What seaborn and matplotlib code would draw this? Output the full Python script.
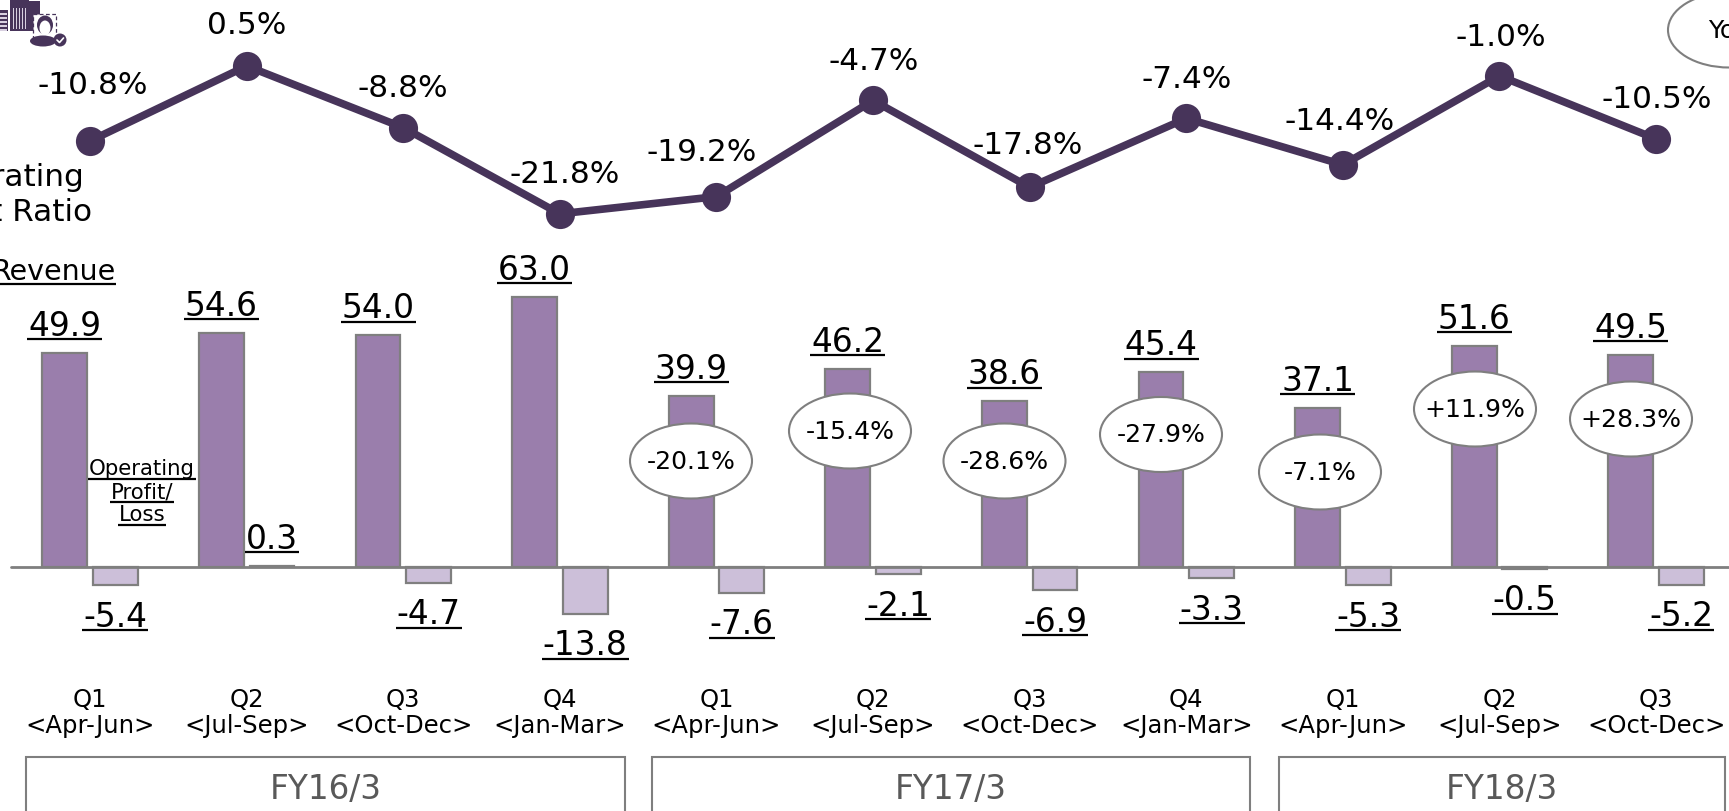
import matplotlib
matplotlib.use("Agg")
import matplotlib.pyplot as plt
from matplotlib.patches import Ellipse, Rectangle, Circle
import pandas as pd
import seaborn as sns

quarters = ["16Q1", "16Q2", "16Q3", "16Q4", "17Q1", "17Q2", "17Q3", "17Q4", "18Q1", "18Q2", "18Q3"]
tick_labels = ["Q1\n<Apr-Jun>", "Q2\n<Jul-Sep>", "Q3\n<Oct-Dec>", "Q4\n<Jan-Mar>",
               "Q1\n<Apr-Jun>", "Q2\n<Jul-Sep>", "Q3\n<Oct-Dec>", "Q4\n<Jan-Mar>",
               "Q1\n<Apr-Jun>", "Q2\n<Jul-Sep>", "Q3\n<Oct-Dec>"]
revenue = [49.9, 54.6, 54.0, 63.0, 39.9, 46.2, 38.6, 45.4, 37.1, 51.6, 49.5]
op_profit = [-5.4, 0.3, -4.7, -13.8, -7.6, -2.1, -6.9, -3.3, -5.3, -0.5, -5.2]
op_ratio = [-10.8, 0.5, -8.8, -21.8, -19.2, -4.7, -17.8, -7.4, -14.4, -1.0, -10.5]
yoy_labels = ["-20.1%", "-15.4%", "-28.6%", "-27.9%", "-7.1%", "+11.9%", "+28.3%"]
fiscal_years = ["FY16/3", "FY17/3", "FY18/3"]

# layout (not data), in output pixels
ratio_offsets = [(3, 47), (0, 32), (0, 31), (5, 31), (-15, 36), (1, 30), (-2, 33), (0, 30), (-3, 35), (1, 30), (1, 31)]
yoy_centres = [(691, 461), (850, 431), (1004.5, 461), (1161, 434.5), (1320, 472), (1475, 409), (1631, 419)]
fy_boxes = [(26, 625), (652, 1250), (1279, 1725)]

W, H = 1729, 811
DARK, MID, LIGHT, GREY = "#47345A", "#9A7EAC", "#CCBFD9", "#7F7F7F"

sns.set_theme(style="white")
plt.rcParams["font.family"] = ["DejaVu Sans"]
fig = plt.figure(figsize=(W / 100, H / 100), dpi=100, facecolor="white")

AX_BOTTOM = 688
ax = fig.add_axes([0, 1 - AX_BOTTOM / H, 1, AX_BOTTOM / H])
ax.patch.set_visible(False)
BASE = 567
REV_PX, OP_PX, PCT_PX = 4.29, 3.4, 6.63

series = ["Revenue", "Operating Profit"]
rev_df = pd.DataFrame({"quarter": quarters, "value": revenue, "series": series[0]})
op_df = pd.DataFrame({"quarter": quarters, "value": op_profit, "series": series[1]})
palette = {series[0]: MID, series[1]: LIGHT}
bar_kw = dict(x="quarter", y="value", hue="series", hue_order=series, order=quarters, palette=palette,
              width=0.646, gap=0.117, dodge=True, edgecolor=GREY, linewidth=1.6, legend=False,
              saturation=1, errorbar=None)
sns.barplot(data=rev_df, ax=ax, **bar_kw)
ax_op = ax.twinx()
ax_op.patch.set_visible(False)
sns.barplot(data=op_df, ax=ax_op, **bar_kw)
ax_line = ax.twinx()
ax_line.patch.set_visible(False)
line_df = pd.DataFrame({"quarter": quarters, "ratio": op_ratio})
sns.lineplot(data=line_df, x="quarter", y="ratio", ax=ax_line, color=DARK, linewidth=5.5, marker="o",
             markersize=21, markeredgecolor=DARK, markeredgewidth=0, sort=False, errorbar=None)

xlim = (-90.1 / 156.6, (W - 90.1) / 156.6)
for a, px in [(ax, REV_PX), (ax_op, OP_PX)]:
    a.set_ylim(-(AX_BOTTOM - BASE) / px, BASE / px)
ax_line.set_ylim(-(AX_BOTTOM - 69.3) / PCT_PX, 69.3 / PCT_PX)
for a in (ax, ax_op, ax_line):
    a.set_xlim(*xlim)
    a.set_ylabel("")
    a.set_xlabel("")
    a.set_yticks([])
    for s in a.spines.values():
        s.set_visible(False)
ax.set_xticks(range(len(quarters)))
ax.set_xticklabels(tick_labels, fontsize=17.5, color="black", linespacing=1.12)
ax.tick_params(axis="x", length=0, pad=0)
ax_op.tick_params(axis="x", length=0, labelbottom=False)
ax_line.tick_params(axis="x", length=0, labelbottom=False)
ax_op.axhline(0, xmin=11 / W, color=GREY, lw=2.0, zorder=5)

overlay = fig.add_axes([0, 0, 1, 1])
overlay.set_xlim(0, W)
overlay.set_ylim(H, 0)
overlay.axis("off")

underlined = []


def value_label(axis, x, v, text, dy):
    t = axis.annotate(text, xy=(x, v), xytext=(0, dy * 0.72), textcoords="offset points", ha="center",
                      va="baseline", fontsize=23.7, color="black", annotation_clip=False, zorder=6)
    underlined.append((t, axis.transData.transform((x, v))[1] + dy))


def px_label(x, y, text, size):
    t = overlay.text(x, y, text, fontsize=size, ha="center", va="baseline", color="black", clip_on=False)
    underlined.append((t, H - y))


# labels are centred on the matching bar of each dodged group
for i, (r, o) in enumerate(zip(revenue, op_profit)):
    value_label(ax, i - 0.1615, r, f"{r:.1f}", 17)
    value_label(ax_op, i + 0.1615, o, f"{o:.1f}", 17 if o > 0 else -41.5)

for i, (v, (dx, dy)) in enumerate(zip(op_ratio, ratio_offsets)):
    ax_line.annotate(f"{v:.1f}%", xy=(i, v), xytext=(dx * 0.72, dy * 0.72), textcoords="offset points",
                     ha="center", va="baseline", fontsize=22.4, color="black", annotation_clip=False)

for text, (cx, cy) in zip(yoy_labels, yoy_centres):
    overlay.add_patch(Ellipse((cx, cy), 122, 75, facecolor="white", edgecolor=GREY, lw=1.5, zorder=3))
    overlay.text(cx, cy + 1, text, fontsize=18.1, ha="center", va="center", color="black", zorder=4)
overlay.add_patch(Ellipse((1729, 30), 122, 75, facecolor="white", edgecolor=GREY, lw=1.5, clip_on=False))
overlay.text(1729, 31, "YoY", fontsize=18.1, ha="center", va="center", color="black")

for (x0, x1), name in zip(fy_boxes, fiscal_years):
    overlay.add_patch(Rectangle((x0, 756.5), x1 - x0, 80, facecolor="white", edgecolor=GREY, lw=1.5))
    overlay.text((x0 + x1) / 2, 789, name, fontsize=23.5, ha="center", va="center", color="#595959")

overlay.text(6.5, 186, "Operating", fontsize=22.4, ha="center", va="baseline", color="black", clip_on=False)
overlay.text(6.5, 221, "Profit Ratio", fontsize=22.4, ha="center", va="baseline", color="black", clip_on=False)
px_label(53, 280, "Revenue", 20.5)
for y, s in zip((475, 498, 521), ("Operating", "Profit/", "Loss")):
    px_label(142, y, s, 15.3)

# small icon, top-left
for x, y, w, h in [(0, 10, 8, 21), (10, 0, 19, 31), (28, 1, 12, 30)]:
    overlay.add_patch(Rectangle((x, y), w, h, facecolor=DARK, edgecolor="none"))
for yy in range(13, 30, 4):
    overlay.add_patch(Rectangle((0, yy), 7, 1.5, facecolor="#D8D0E0", edgecolor="none"))
for xx in range(13, 27, 3):
    overlay.add_patch(Rectangle((xx, 8), 1.3, 21, facecolor="#D8D0E0", edgecolor="none"))
overlay.add_patch(Rectangle((33, 14), 23, 24, facecolor="white", edgecolor=DARK, lw=0.9, ls=(0, (3, 2))))
overlay.add_patch(Ellipse((45, 25), 16, 19, facecolor=DARK, edgecolor="none"))
overlay.add_patch(Ellipse((45, 28), 11, 15, facecolor="white", edgecolor="none"))
overlay.add_patch(Ellipse((43, 41), 26, 11, facecolor=DARK, edgecolor="none"))
overlay.add_patch(Circle((60, 40), 6.5, facecolor=DARK, edgecolor="none"))
overlay.plot([57, 59.5, 63.5], [40, 42.5, 38], color="white", lw=1.2)

fig.canvas.draw()
r = fig.canvas.get_renderer()
for t, y_disp in underlined:
    bb = t.get_window_extent(r)
    y = H - (y_disp - 3.5)
    overlay.plot([bb.x0 - 1, bb.x1 + 1], [y, y], color="black", lw=1.6, solid_capstyle="butt", clip_on=False)
overlay.set_xlim(0, W)
overlay.set_ylim(H, 0)

fig.savefig("out.png", dpi=100, facecolor="white")
